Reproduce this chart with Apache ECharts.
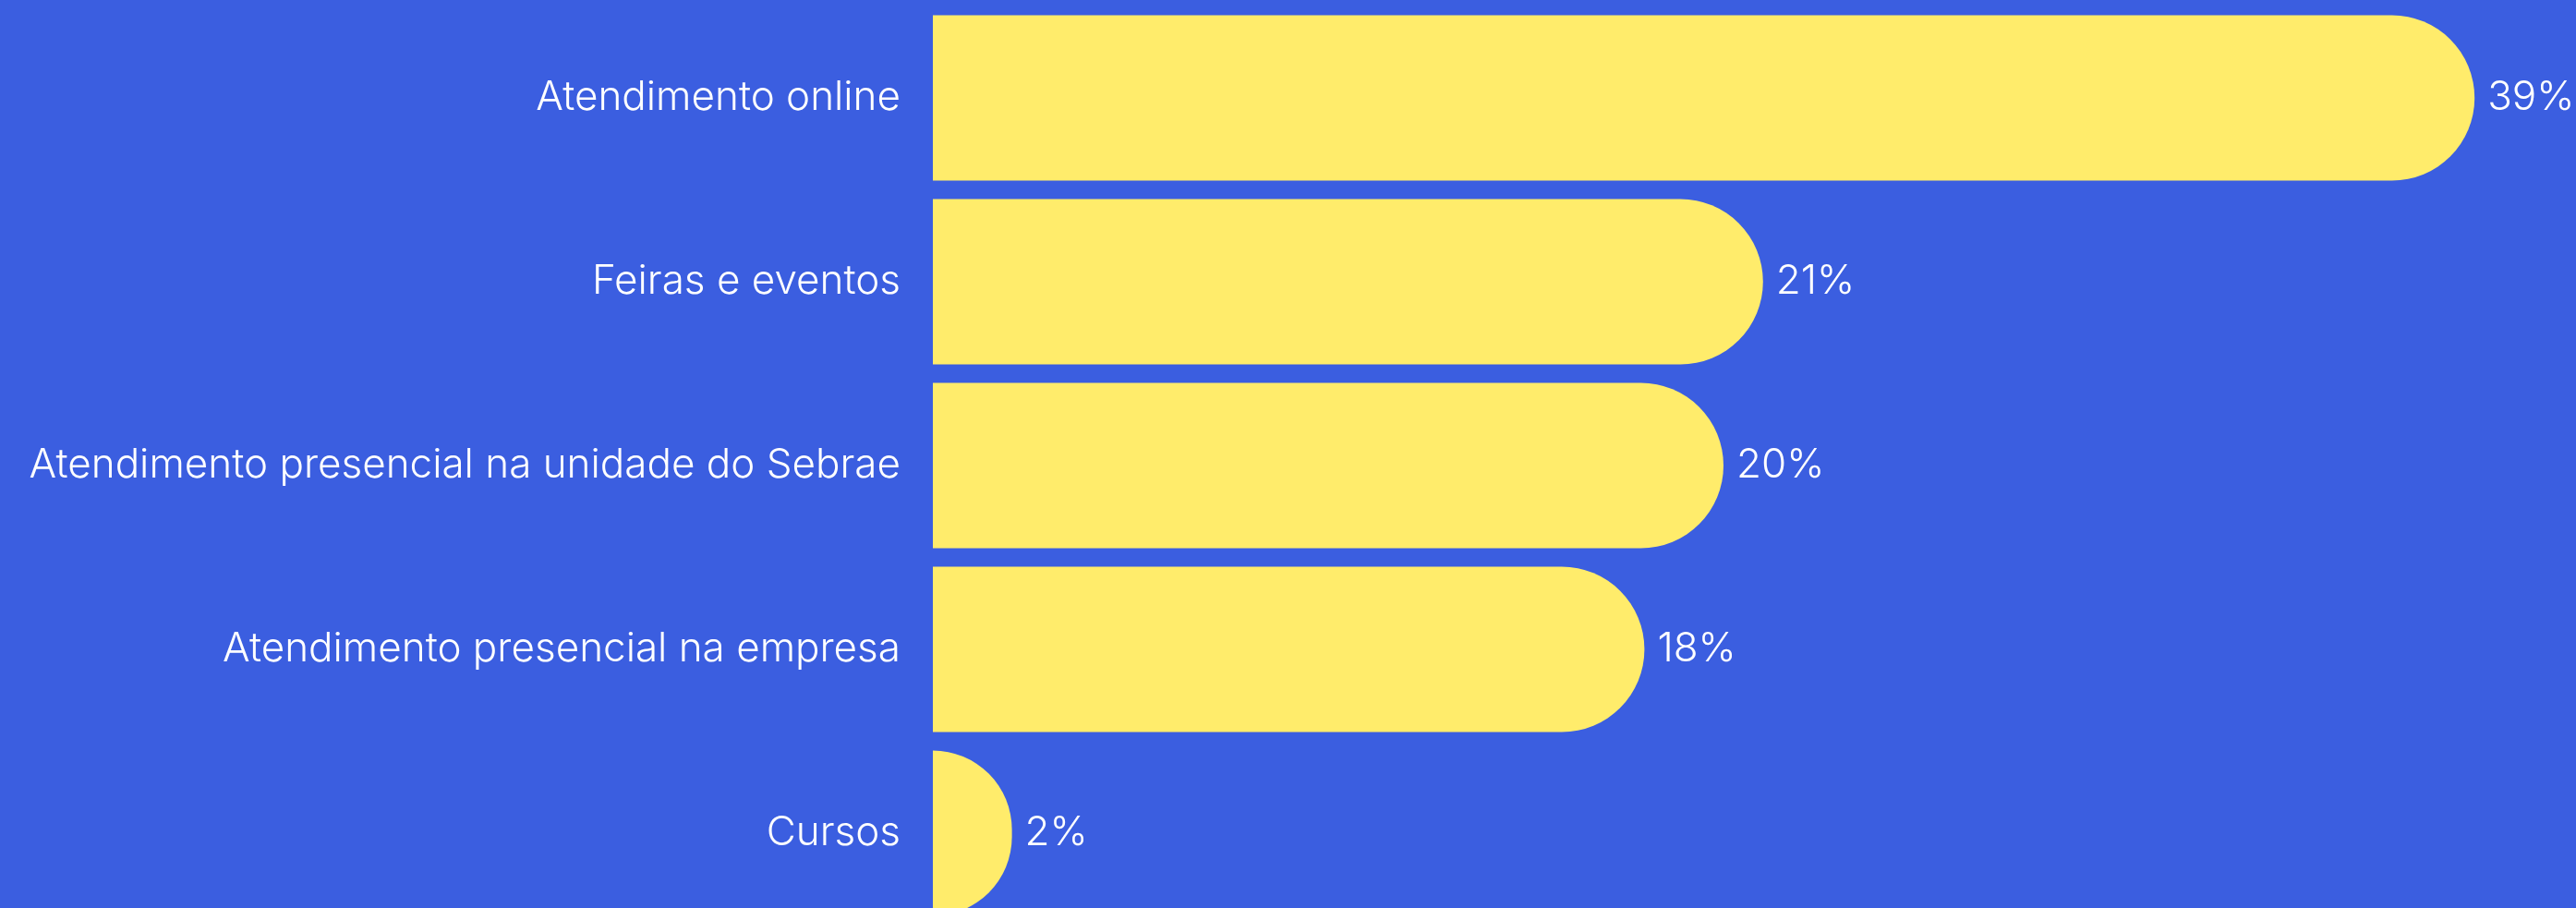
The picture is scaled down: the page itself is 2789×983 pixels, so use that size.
<!DOCTYPE html>
<html lang="pt">
<head>
<meta charset="utf-8">
<script src="https://cdn.jsdelivr.net/npm/echarts@6/dist/echarts.min.js"></script>
<style>
    html, body { margin: 0; padding: 0; background: #3b5ee0; }
    #chart { width: 2789px; height: 983px; }
</style>
</head>
<body>
<div id="chart"></div>
<script>
    // categorias, de cima para baixo
    var categories = [
        'Atendimento online',
        'Feiras e eventos',
        'Atendimento presencial na unidade do Sebrae',
        'Atendimento presencial na empresa',
        'Cursos'
    ];
    var values = [39, 21, 20, 18, 2];

    var chart = echarts.init(document.getElementById('chart'));

    chart.setOption({
        backgroundColor: '#3b5ee0',
        animation: false,
        grid: {
            left: 1010,
            right: 67,
            top: 106,
            height: 796
        },
        xAxis: {
            type: 'value',
            min: 0,
            max: 40,
            show: false
        },
        yAxis: {
            type: 'category',
            data: categories,
            inverse: true,
            boundaryGap: false,
            axisLine: { show: false },
            axisTick: { show: false },
            splitLine: { show: false },
            axisLabel: {
                color: '#ffffff',
                fontFamily: 'Inter',
                fontWeight: 300,
                fontSize: 44,
                margin: 35
            }
        },
        series: [{
            type: 'bar',
            data: values,
            barWidth: 179,
            clip: false,
            itemStyle: {
                color: '#ffec6b',
                borderRadius: [0, 90, 90, 0]
            },
            label: {
                show: true,
                position: 'right',
                distance: 14,
                color: '#ffffff',
                fontFamily: 'Inter',
                fontWeight: 300,
                fontSize: 44,
                formatter: '{c}%'
            }
        }]
    });
</script>
</body>
</html>
